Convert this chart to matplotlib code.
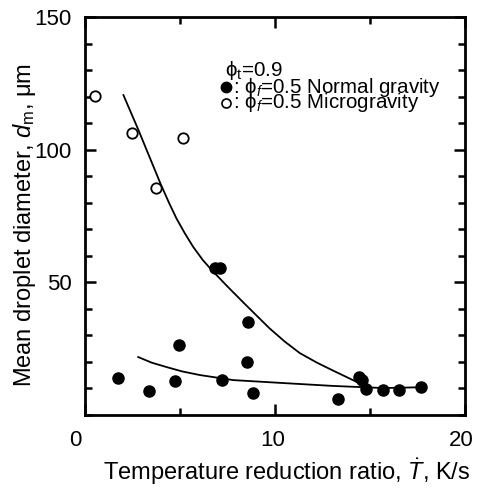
import matplotlib
matplotlib.use("Agg")
import matplotlib.pyplot as plt
from matplotlib.ticker import MultipleLocator
from matplotlib.transforms import ScaledTranslation

plt.rcParams['font.family'] = ['Liberation Sans', 'DejaVu Sans']
plt.rcParams['mathtext.fontset'] = 'custom'
plt.rcParams['mathtext.rm'] = 'Liberation Sans'
plt.rcParams['mathtext.it'] = 'Liberation Sans:italic'

# Microgravity (open circles)
micro_x = [0.55, 2.47, 3.74, 5.16]
micro_y = [120.2, 106.2, 85.5, 104.3]

# Normal gravity (filled circles)
normal_x = [1.75, 3.37, 4.75, 4.96, 6.84, 7.1, 7.2, 8.5, 8.6, 8.85, 13.3,
            14.4, 14.6, 14.8, 15.7, 16.5, 17.7]
normal_y = [13.8, 8.9, 12.7, 26.2, 55.3, 55.3, 13.0, 19.8, 34.9, 8.1, 5.8,
            14.1, 13.0, 9.8, 9.3, 9.3, 10.4]

# Fitted curves
upper_x = [2.02, 2.81, 3.98, 4.44, 4.82, 5.26, 5.7, 6.2, 6.67, 7.5, 8.33, 9.7,
           10.5, 11.3, 12.2, 13.05, 14.3, 14.85]
upper_y = [120.6, 107.4, 87.0, 79.6, 73.9, 68.3, 63.2, 58.3, 54.5, 48.3, 42.3,
           32.6, 27.6, 23.2, 19.6, 16.6, 12.3, 10.4]
lower_x = [2.8, 3.5, 4.3, 5.1, 6.05, 7.8, 10.4, 13.05, 15.7, 17.7]
lower_y = [21.7, 19.6, 17.9, 16.3, 14.9, 13.0, 11.9, 10.8, 10.0, 10.3]

tick_fs = 16
label_fs = 17
legend_fs = 14.8

fig = plt.figure(figsize=(4.79, 4.90), dpi=100)
ax = fig.add_axes([0.1775, 0.154, 0.7935, 0.811])

ax.plot(upper_x, upper_y, color='black', lw=1.3)
ax.plot(lower_x, lower_y, color='black', lw=1.3)
ax.plot(normal_x, normal_y, 'o', color='black', ms=8, mec='black')
ax.plot(micro_x, micro_y, 'o', color='white', ms=7.5, mec='black', mew=1.3)

ax.set_xlim(0, 20)
ax.set_ylim(0, 150)
ax.set_xticks([0, 10, 20])
ax.xaxis.set_minor_locator(MultipleLocator(5))
ax.set_yticks([50, 100, 150])
ax.yaxis.set_minor_locator(MultipleLocator(10))
ax.tick_params(which='both', direction='in', top=True, right=True, width=1.8,
               labelsize=tick_fs)
ax.tick_params(which='major', length=8)
ax.tick_params(axis='x', which='major', pad=11)
ax.tick_params(axis='y', which='major', pad=9.4)
ax.tick_params(which='minor', length=5)
for s in ax.spines.values():
    s.set_linewidth(2)

# slight horizontal offsets of x tick labels as in the reference
for lab, dx in zip(ax.get_xticklabels(), [-9.5, -2.5, -4]):
    lab.set_transform(lab.get_transform() + ScaledTranslation(dx / 100, 0, fig.dpi_scale_trans))

ax.set_xlabel(r'Temperature reduction ratio, $\dot{T}$, K/s', fontsize=label_fs, labelpad=4)
ax.xaxis.label.set_x(0.5316)
ax.set_ylabel(r'Mean droplet diameter, $d_\mathrm{m}$, μm', fontsize=17)
ax.yaxis.set_label_coords(-0.124, 0.477)

# in-plot legend
ax.text(0.368, 0.8667, r'$\mathrm{\phi}_\mathrm{t}$=0.9', transform=ax.transAxes,
        fontsize=legend_fs, va='center', ha='left')
ax.plot([0.3697], [0.8239], 'o', color='black', ms=7.5, transform=ax.transAxes, clip_on=False)
ax.text(0.3895, 0.8239, r': $\mathrm{\phi}_{f}$=0.5 Normal gravity', transform=ax.transAxes,
        fontsize=legend_fs, va='center', ha='left')
ax.plot([0.3697], [0.785], 'o', color='white', mec='black', mew=1.2, ms=6.5,
        transform=ax.transAxes, clip_on=False)
ax.text(0.3895, 0.785, r': $\mathrm{\phi}_{f}$=0.5 Microgravity', transform=ax.transAxes,
        fontsize=legend_fs, va='center', ha='left')

fig.savefig('out.png', dpi=100)
